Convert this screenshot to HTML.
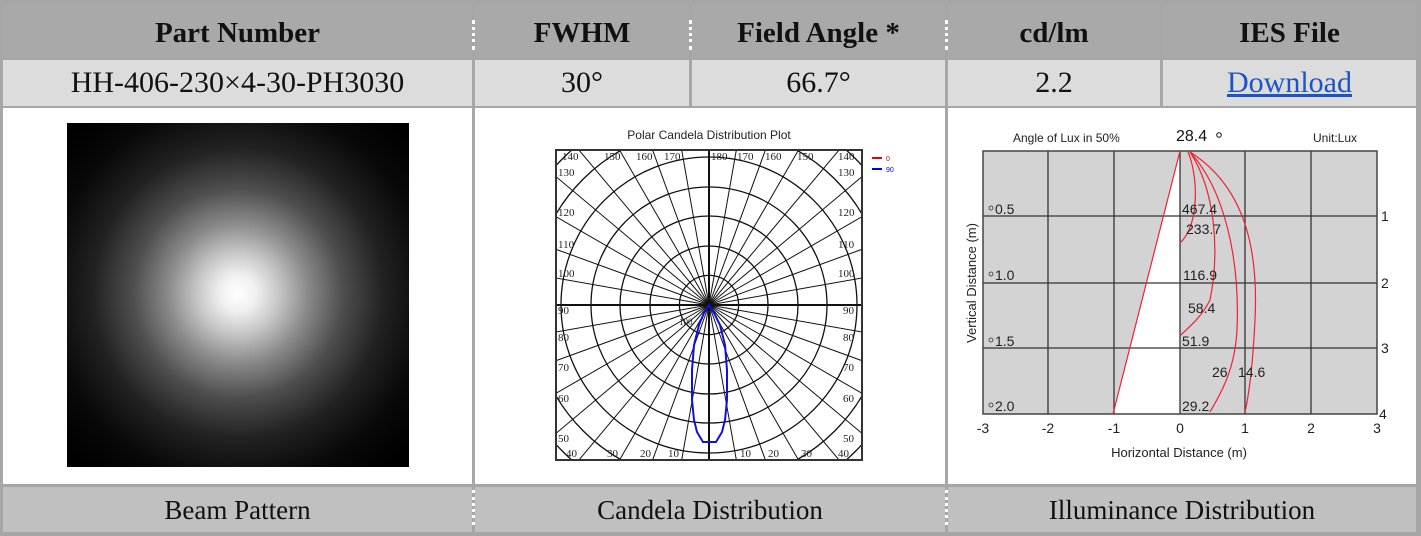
<!DOCTYPE html>
<html><head><meta charset="utf-8"><style>
html,body{margin:0;background:#fff;width:1421px;height:536px;overflow:hidden;font-family:"Liberation Serif",serif;}
.abs{position:absolute;}
.c{position:absolute;display:flex;align-items:center;justify-content:center;color:#111;white-space:nowrap;}
</style></head><body>
<div class="abs" style="left:0;top:0;width:1421px;height:536px;background:#a6a6a6"></div>
<div class="abs" style="left:3px;top:5px;width:1413px;height:53px;background:#a9a9a9"></div>
<div class="abs" style="left:3px;top:60px;width:1413px;height:46px;background:#dcdcdc"></div>
<div class="abs" style="left:3px;top:108px;width:1413px;height:376px;background:#fff"></div>
<div class="abs" style="left:3px;top:487px;width:1413px;height:45px;background:#c0c0c0"></div>
<div class="abs" style="left:472px;top:5px;width:3px;height:527px;background:#a6a6a6"></div>
<div class="abs" style="left:945px;top:5px;width:3px;height:527px;background:#a6a6a6"></div>
<div class="abs" style="left:689px;top:5px;width:3px;height:101px;background:#a6a6a6"></div>
<div class="abs" style="left:1160px;top:5px;width:3px;height:101px;background:#a6a6a6"></div>
<div class="abs" style="left:472px;top:20px;width:3px;height:30px;border-left:3px dotted #fff;box-sizing:border-box"></div>
<div class="abs" style="left:689px;top:20px;width:3px;height:30px;border-left:3px dotted #fff;box-sizing:border-box"></div>
<div class="abs" style="left:945px;top:20px;width:3px;height:30px;border-left:3px dotted #fff;box-sizing:border-box"></div>
<div class="abs" style="left:472px;top:490px;width:3px;height:35px;border-left:3px dotted #fff;box-sizing:border-box"></div>
<div class="abs" style="left:945px;top:490px;width:3px;height:35px;border-left:3px dotted #fff;box-sizing:border-box"></div>

<div class="c" style="left:3px;top:7px;width:469px;height:53px;font-weight:bold;font-size:29px">Part Number</div>
<div class="c" style="left:475px;top:7px;width:214px;height:53px;font-weight:bold;font-size:29px">FWHM</div>
<div class="c" style="left:692px;top:7px;width:253px;height:53px;font-weight:bold;font-size:29px">Field Angle *</div>
<div class="c" style="left:948px;top:7px;width:212px;height:53px;font-weight:bold;font-size:29px">cd/lm</div>
<div class="c" style="left:1163px;top:7px;width:253px;height:53px;font-weight:bold;font-size:29px">IES File</div>

<div class="c" style="left:3px;top:60px;width:469px;height:46px;font-size:30px">HH-406-230×4-30-PH3030</div>
<div class="c" style="left:475px;top:60px;width:214px;height:46px;font-size:30px">30°</div>
<div class="c" style="left:692px;top:60px;width:253px;height:46px;font-size:30px">66.7°</div>
<div class="c" style="left:948px;top:60px;width:212px;height:46px;font-size:30px">2.2</div>
<div class="c" style="left:1163px;top:60px;width:253px;height:46px;font-size:30px;color:#1a55c8;text-decoration:underline">Download</div>

<div class="c" style="left:3px;top:488px;width:469px;height:45px;font-size:27px">Beam Pattern</div>
<div class="c" style="left:475px;top:488px;width:470px;height:45px;font-size:27px">Candela Distribution</div>
<div class="c" style="left:948px;top:488px;width:468px;height:45px;font-size:27px">Illuminance Distribution</div>

<div class="abs" style="left:67px;top:123px;width:342px;height:344px;background:radial-gradient(circle at 171px 170px,#fff 0,#f0f0f0 18px,#c8c8c8 40px,#8a8a8a 70px,#4e4e4e 105px,#222 145px,#080808 190px,#000 230px)"></div>

<svg class="abs" style="left:0;top:0" width="1421" height="536" font-family="Liberation Sans, sans-serif">
<text x="709" y="139" font-size="12" text-anchor="middle" fill="#222">Polar Candela Distribution Plot</text>
<defs><clipPath id="pc"><rect x="556" y="150" width="306" height="310"/></clipPath></defs>
<g clip-path="url(#pc)" stroke="#111" fill="none">
<g stroke-width="1.3">
<circle cx="709" cy="305" r="29.6"/><circle cx="709" cy="305" r="59"/><circle cx="709" cy="305" r="89"/><circle cx="709" cy="305" r="118"/><circle cx="709" cy="305" r="148"/><circle cx="709" cy="305" r="178"/><circle cx="709" cy="305" r="207"/>
</g>
<g stroke-width="1" id="rad"></g>
<line x1="556" y1="305" x2="862" y2="305" stroke-width="2"/>
<line x1="709" y1="150" x2="709" y2="460" stroke-width="2"/>
</g>
<rect x="556" y="150" width="306" height="310" fill="none" stroke="#333" stroke-width="2"/>
<path d="M709,305 L704,313 699,325 694,345 692,370 692,400 694,420 697,432 703,442 716,442 722,432 725,420 727,400 727,370 725,345 720,325 714,313 Z" fill="none" stroke="#1010e0" stroke-width="2"/>
<g font-family="Liberation Serif, serif" font-size="11" fill="#222">
<text x="562" y="160">140</text><text x="604" y="160">150</text><text x="636" y="160">160</text><text x="664" y="160">170</text>
<text x="711" y="160">180</text><text x="737" y="160">170</text><text x="765" y="160">160</text><text x="797" y="160">150</text><text x="838" y="160">140</text>
<text x="558" y="176">130</text><text x="838" y="176">130</text>
<text x="558" y="216">120</text><text x="838" y="216">120</text>
<text x="558" y="248">110</text><text x="838" y="248">110</text>
<text x="558" y="277">100</text><text x="838" y="277">100</text>
<text x="558" y="314">90</text><text x="843" y="314">90</text>
<text x="558" y="341">80</text><text x="843" y="341">80</text>
<text x="558" y="371">70</text><text x="843" y="371">70</text>
<text x="558" y="402">60</text><text x="843" y="402">60</text>
<text x="558" y="442">50</text><text x="843" y="442">50</text>
<text x="566" y="457">40</text><text x="607" y="457">30</text><text x="640" y="457">20</text><text x="668" y="457">10</text>
<text x="740" y="457">10</text><text x="768" y="457">20</text><text x="801" y="457">30</text><text x="838" y="457">40</text>
<text x="679" y="325" font-size="9">100</text>
</g>
<line x1="872" y1="158" x2="882" y2="158" stroke="#e00" stroke-width="2"/><text x="886" y="161" font-size="7" fill="#e00">0</text>
<line x1="872" y1="169" x2="882" y2="169" stroke="#00d" stroke-width="2"/><text x="886" y="172" font-size="7" fill="#00d">90</text>

<text x="1013" y="142" font-size="12" fill="#222">Angle of Lux in 50%</text>
<text x="1176" y="141" font-size="16" fill="#111">28.4</text><circle cx="1219" cy="135" r="2.3" fill="none" stroke="#111"/>
<text x="1313" y="142" font-size="12" fill="#222">Unit:Lux</text>
<rect x="983" y="151" width="394" height="263" fill="#d3d3d3"/>
<polygon points="1180,151 1113,414 1180,414" fill="#fff"/>
<g stroke="#333" stroke-width="1.3">
<line x1="1048" y1="151" x2="1048" y2="414"/><line x1="1114" y1="151" x2="1114" y2="414"/><line x1="1180" y1="151" x2="1180" y2="414"/><line x1="1245" y1="151" x2="1245" y2="414"/><line x1="1311" y1="151" x2="1311" y2="414"/>
<line x1="983" y1="216" x2="1377" y2="216"/><line x1="983" y1="283" x2="1377" y2="283"/><line x1="983" y1="348" x2="1377" y2="348"/>
</g>
<rect x="983" y="151" width="394" height="263" fill="none" stroke="#444" stroke-width="1.5"/>
<g stroke="#e23" stroke-width="1.2" fill="none">
<line x1="1180" y1="151" x2="1113" y2="414"/>
<path d="M1188,152 C1198,175 1200,225 1180,243"/>
<path d="M1190,152 C1215,190 1220,250 1210,300 C1200,320 1185,330 1180,336"/>
<path d="M1190,152 C1225,190 1240,260 1237,330 C1235,370 1220,395 1210,412"/>
<path d="M1190,152 C1250,190 1258,260 1255,320 C1253,360 1250,390 1245,412"/>
</g>
<g font-size="14" fill="#222">
<text x="1182" y="214">467.4</text><text x="1186" y="234">233.7</text><text x="1183" y="280">116.9</text><text x="1188" y="313">58.4</text>
<text x="1182" y="346">51.9</text><text x="1212" y="377">26</text><text x="1238" y="377">14.6</text><text x="1182" y="411">29.2</text>
<text x="995" y="214">0.5</text><text x="995" y="280">1.0</text><text x="995" y="346">1.5</text><text x="995" y="411">2.0</text>
<text x="1381" y="221">1</text><text x="1381" y="288">2</text><text x="1381" y="353">3</text><text x="1379" y="419">4</text>
<text x="983" y="433" text-anchor="middle">-3</text><text x="1048" y="433" text-anchor="middle">-2</text><text x="1114" y="433" text-anchor="middle">-1</text><text x="1180" y="433" text-anchor="middle">0</text><text x="1245" y="433" text-anchor="middle">1</text><text x="1311" y="433" text-anchor="middle">2</text><text x="1377" y="433" text-anchor="middle">3</text>
</g>
<g fill="none" stroke="#333" stroke-width="0.8"><circle cx="991" cy="208" r="2"/><circle cx="991" cy="274" r="2"/><circle cx="991" cy="340" r="2"/><circle cx="991" cy="405" r="2"/></g>
<text x="1179" y="457" font-size="13" text-anchor="middle" fill="#222">Horizontal Distance (m)</text>
<text x="0" y="0" font-size="13" fill="#222" text-anchor="middle" transform="translate(976,283) rotate(-90)">Vertical Distance (m)</text>
</svg>
<script>
var g=document.getElementById('rad'),s='';
for(var a=0;a<360;a+=10){var r=a*Math.PI/180;s+='<line x1="709" y1="305" x2="'+(709+260*Math.cos(r))+'" y2="'+(305+260*Math.sin(r))+'"/>';}
g.innerHTML=s;
</script>
</body></html>
